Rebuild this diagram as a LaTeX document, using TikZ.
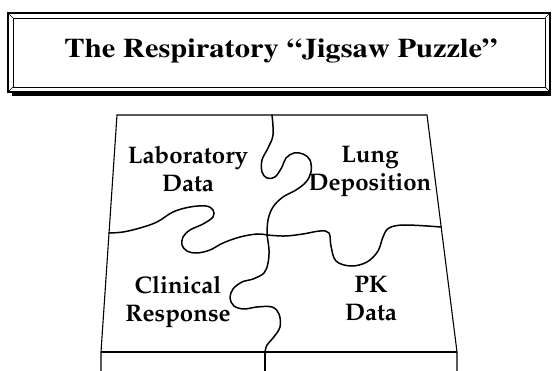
\documentclass[tikz,border=0pt]{standalone}
\usepackage[T1]{fontenc}
\usepackage{tikz}
\usetikzlibrary{positioning}

\begin{document}
\begin{tikzpicture}[x=1pt, y=-1pt,
    titletext/.style={font=\fontfamily{ptm}\bfseries\fontsize{27}{32}\selectfont, inner sep=0pt},
    piecetext/.style={font=\fontfamily{ppl}\bfseries\fontsize{24}{28}\selectfont, align=center, inner sep=0pt},
    edge/.style={line width=1.1pt},
    cut/.style={line width=1.5pt, line join=round, line cap=round}
  ]
  \useasboundingbox (0,0) rectangle (552,371);
  % title plate
  \draw[line width=1.3pt] (8,13) rectangle (550,92);
  \draw[line width=0.9pt] (13,18) rectangle (545,87);
  \draw[line width=0.7pt] (8,13) -- (13,18) (550,13) -- (545,18) (8,92) -- (13,87) (550,92) -- (545,87);
  \draw[line width=3pt] (12,95) -- (551,95);
  \node[titletext, anchor=base] (title) at (281,58) {\scalebox{1.13}[1]{The Respiratory ``Jigsaw Puzzle''}};

  % puzzle outline
  \draw[edge] (101,371) -- (101,352) -- (117,115) -- (427,115) -- (457,352) -- (457,371);
  \draw[edge] (101,352) -- (457,352);
  \draw[edge] (265,352) -- (265,371);

  % cuts between the pieces
  \draw[cut] plot[smooth, tension=0.6] coordinates {(272,115) (273,135) (268,148) (262,160) (262,172) (267,178) (275,177) (282,167) (286,158) (294,153) (303,154) (310,160) (311,172) (306,182) (296,190) (283,197) (273,207) (268,220) (267,235)};
  \draw[cut] plot[smooth, tension=0.6] coordinates {(109,233) (123,232) (140,228) (157,222) (173,212) (190,207) (206,206) (213,210) (213,217) (203,224) (190,230) (183,237) (182,245) (187,251) (197,253) (210,250) (223,243) (240,237) (257,234) (267,235)};
  \draw[cut] plot[smooth, tension=0.6] coordinates {(267,235) (285,236) (303,234) (320,231) (329,233) (331,246) (336,261) (351,266) (367,262) (378,251) (383,237) (389,228) (405,225) (441,227)};
  \draw[cut] plot[smooth, tension=0.6] coordinates {(267,235) (269,250) (268,263) (264,273) (253,279) (242,282) (233,289) (230,298) (234,306) (244,309) (257,307) (272,307) (279,314) (280,327) (273,338) (267,345) (265,352)};

  % piece labels
  \node[piecetext] (lab) at (188,169) {Laboratory\\Data};
  \node[piecetext] (lung) at (370,172) {Lung\\Deposition};
  \node[piecetext] (clin) at (178,302) {Clinical\\Response};
  \node[piecetext] (pk) at (371,299) {PK\\Data};
\end{tikzpicture}
\end{document}
